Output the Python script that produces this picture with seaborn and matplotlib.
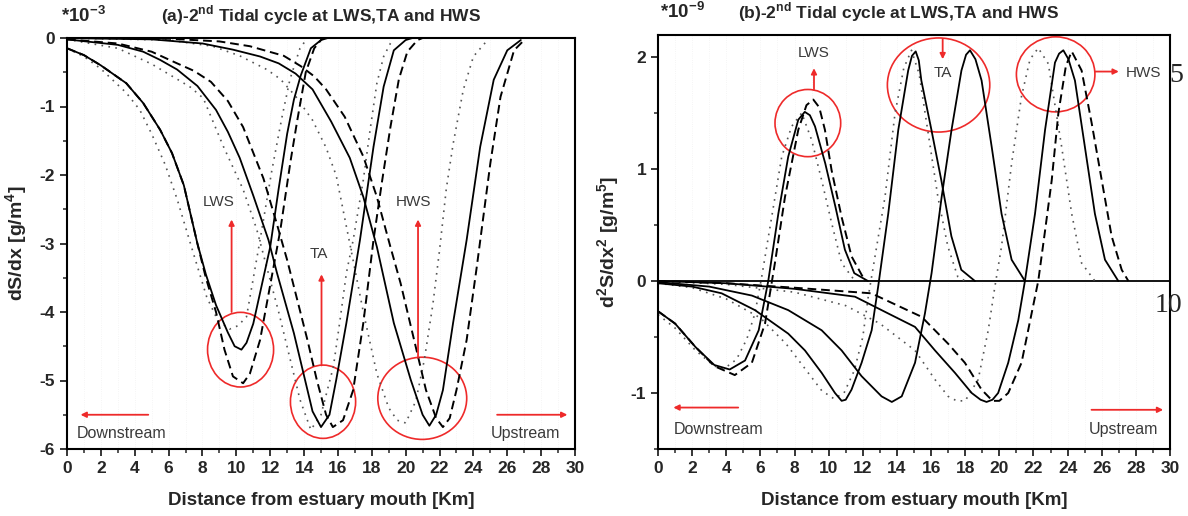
import matplotlib
matplotlib.use('Agg')
import matplotlib.pyplot as plt
import seaborn as sns
from matplotlib.patches import Ellipse
from matplotlib.ticker import MultipleLocator

# ---- panel (a): dS/dx  (*10^-3) ----
a_lws_solid_x = [0, 1, 2, 3.5, 4.5, 5.5, 6.2, 6.9, 7.7, 8.2, 8.8, 9.5, 9.9, 10.3, 10.6, 11.0, 12.0, 12.5, 13.0, 13.4, 13.8, 14.4, 15.0, 15.4]
a_lws_solid_y = [-0.15, -0.25, -0.4, -0.66, -0.95, -1.34, -1.68, -2.15, -3.0, -3.45, -3.9, -4.3, -4.5, -4.55, -4.45, -4.17, -3.05, -2.2, -1.4, -0.9, -0.55, -0.15, -0.03, 0]
a_lws_dash_x = [0, 1, 2, 3.5, 4.5, 5.5, 6.2, 6.9, 7.7, 8.2, 8.8, 9.3, 9.8, 10.4, 10.8, 11.4, 12.2, 12.6, 13.2, 13.6, 14.1, 14.6, 15.1]
a_lws_dash_y = [-0.15, -0.25, -0.4, -0.66, -0.95, -1.34, -1.68, -2.15, -3.0, -3.5, -4.0, -4.55, -4.94, -5.04, -4.9, -4.41, -3.34, -2.8, -1.8, -1.2, -0.5, -0.15, 0]
a_lws_dot_x = [0, 1, 2, 3.5, 4.3, 5.0, 5.8, 6.5, 7.46, 8.25, 8.9, 9.6, 10.1, 10.6, 11.4, 12.1, 12.7, 13.17, 13.76, 14.2]
a_lws_dot_y = [-0.15, -0.27, -0.45, -0.8, -1.05, -1.4, -1.85, -2.35, -3.14, -3.78, -4.12, -4.25, -4.2, -4.07, -2.95, -1.93, -1.15, -0.6, -0.15, 0]

a_ta_solid_x = [0, 3, 4.5, 5.5, 6.5, 7.7, 8.8, 9.5, 10.2, 11.0, 11.9, 12.4, 13.4, 14.5, 15.0, 15.5, 15.9, 16.5, 17.3, 18.1, 18.7, 19.3, 20.0, 20.4]
a_ta_solid_y = [-0.02, -0.1, -0.2, -0.32, -0.46, -0.7, -1.05, -1.37, -1.75, -2.3, -2.95, -3.43, -4.31, -5.45, -5.68, -5.5, -4.99, -4.16, -2.95, -1.59, -0.71, -0.18, -0.03, 0]
a_ta_dash_x = [0, 3, 5, 6.5, 7.5, 8.5, 9.5, 10.4, 11.6, 12.4, 13.0, 14.2, 14.75, 15.3, 15.7, 16.3, 16.9, 17.5, 18.1, 18.6, 19.1, 19.6, 20.1, 20.7, 21.0]
a_ta_dash_y = [-0.02, -0.08, -0.2, -0.37, -0.48, -0.64, -0.92, -1.3, -2.05, -2.72, -3.24, -4.41, -4.99, -5.5, -5.68, -5.58, -5.14, -4.16, -2.95, -2.1, -1.3, -0.6, -0.2, -0.03, 0]
a_ta_dot_x = [0, 3, 5, 6.5, 7.3, 8.05, 9.23, 10.4, 11.2, 12.5, 13.76, 14.4, 15.0, 15.73, 16.1, 16.5, 16.9, 17.5, 17.9, 18.3, 18.7, 19.2]
a_ta_dot_y = [-0.02, -0.15, -0.38, -0.6, -0.72, -0.88, -1.58, -2.21, -2.79, -4.0, -5.28, -5.72, -5.5, -4.8, -4.16, -3.43, -2.95, -2.07, -1.34, -0.66, -0.27, -0.03]

a_hws_solid_x = [0, 5, 8, 9.8, 11.4, 12.5, 13.5, 14.5, 15.6, 16.7, 17.5, 18.3, 19.3, 20.3, 21.0, 21.4, 21.8, 22.2, 22.8, 23.6, 24.4, 25.2, 26.0, 26.8]
a_hws_solid_y = [0, -0.02, -0.08, -0.17, -0.27, -0.37, -0.52, -0.75, -1.22, -1.75, -2.32, -3.05, -4.16, -4.99, -5.5, -5.66, -5.5, -5.14, -4.16, -2.95, -1.59, -0.61, -0.18, -0.03]
a_hws_dash_x = [0, 6, 9, 10.8, 12.8, 13.8, 14.6, 15.3, 16.4, 17.5, 18.3, 19.1, 19.7, 20.5, 21.2, 21.8, 22.2, 22.6, 23.0, 23.6, 24.2, 25.0, 25.6, 26.4, 27.0]
a_hws_dash_y = [0, -0.01, -0.05, -0.12, -0.26, -0.41, -0.56, -0.75, -1.15, -1.73, -2.32, -3.05, -3.58, -4.41, -5.14, -5.55, -5.68, -5.55, -5.14, -4.41, -3.34, -1.83, -0.86, -0.18, -0.03]
a_hws_dot_x = [0, 6, 8.6, 10.2, 11.8, 12.6, 13.5, 14.5, 15.3, 15.9, 16.7, 17.5, 18.3, 19.0, 19.5, 20.0, 20.6, 21.1, 21.6, 22.0, 22.4, 22.8, 23.4, 24.0, 24.8]
a_hws_dot_y = [0, -0.03, -0.12, -0.26, -0.46, -0.6, -0.85, -1.2, -1.6, -2.01, -3.0, -4.0, -4.9, -5.4, -5.58, -5.62, -5.3, -4.7, -3.9, -3.1, -2.2, -1.55, -0.76, -0.27, -0.04]

# ---- panel (b): d2S/dx2  (*10^-9) ----
b_lws_solid_x = [0, 1.0, 2.2, 3.3, 4.2, 5.1, 5.9, 6.46, 7.05, 7.63, 8.22, 8.6, 8.9, 9.2, 9.8, 10.4, 10.95, 11.5, 12.3]
b_lws_solid_y = [-0.27, -0.38, -0.59, -0.75, -0.79, -0.71, -0.44, 0.0, 0.6, 1.11, 1.44, 1.51, 1.48, 1.38, 1.05, 0.66, 0.28, 0.07, 0]
b_lws_dash_x = [0, 1, 2.2, 3.3, 4.5, 5.5, 6.27, 6.85, 7.44, 8.22, 8.7, 9.1, 9.45, 9.78, 10.17, 10.76, 11.34, 12.13]
b_lws_dash_y = [-0.27, -0.38, -0.59, -0.76, -0.84, -0.73, -0.38, 0.16, 0.75, 1.35, 1.57, 1.62, 1.55, 1.35, 0.99, 0.57, 0.22, 0.0]
b_lws_dot_x = [0, 1, 2.2, 3.3, 3.9, 4.6, 5.2, 5.68, 6.08, 6.66, 7.25, 7.83, 8.42, 9.0, 9.59, 10.17, 10.76, 11.54]
b_lws_dot_y = [-0.3, -0.42, -0.62, -0.76, -0.78, -0.7, -0.52, -0.29, 0.04, 0.57, 1.11, 1.38, 1.5, 1.26, 0.9, 0.52, 0.16, 0.0]

b_ta1_solid_x = [0, 2, 3.73, 5.68, 7.63, 8.61, 9.59, 10.37, 10.76, 11.0, 11.34, 11.93, 12.52, 12.9, 13.49, 14.08, 14.66, 14.88, 15.1, 15.28, 15.43, 16.02, 16.6, 17.19, 17.77, 18.57]
b_ta1_solid_y = [-0.02, -0.05, -0.11, -0.26, -0.47, -0.62, -0.82, -1.0, -1.07, -1.06, -0.97, -0.73, -0.44, -0.05, 0.6, 1.35, 1.88, 2.01, 2.05, 1.97, 1.79, 1.35, 0.9, 0.4, 0.1, 0.0]
b_ta1_dot_x = [0, 2, 4, 6, 7.5, 8.6, 9.6, 10.3, 10.9, 11.5, 12.0, 12.32, 13.3, 13.89, 14.4, 14.85, 15.3, 15.8, 16.4, 16.98, 17.56, 18.0]
b_ta1_dot_y = [-0.02, -0.06, -0.16, -0.33, -0.56, -0.78, -0.98, -1.05, -1.0, -0.8, -0.5, -0.14, 0.75, 1.5, 1.9, 2.06, 1.85, 1.35, 0.75, 0.31, 0.04, 0.0]
b_ta2_solid_x = [0, 3, 5.5, 7.63, 9.59, 10.76, 11.93, 13.1, 13.7, 14.28, 15.06, 15.64, 16.03, 16.62, 17.2, 17.78, 18.05, 18.28, 18.6, 18.96, 19.55, 20.13, 20.72, 21.5]
b_ta2_solid_y = [-0.01, -0.05, -0.13, -0.26, -0.44, -0.62, -0.85, -1.03, -1.08, -1.03, -0.73, -0.29, 0.07, 0.75, 1.35, 1.88, 2.02, 2.06, 1.98, 1.79, 1.2, 0.6, 0.19, 0.0]

b_hws_solid_x = [0, 4, 8, 11.54, 13.49, 15.06, 16.23, 17.4, 18.38, 18.9, 19.25, 19.6, 19.93, 20.52, 21.11, 21.5, 22.09, 22.68, 23.26, 23.5, 23.75, 24.05, 24.43, 25.01, 25.6, 26.19, 26.97]
b_hws_solid_y = [0, -0.02, -0.07, -0.14, -0.29, -0.41, -0.62, -0.82, -1.0, -1.06, -1.08, -1.06, -1.0, -0.73, -0.35, 0.0, 0.6, 1.35, 1.95, 2.03, 2.06, 1.98, 1.79, 1.2, 0.6, 0.19, 0.0]
b_hws_dash_x = [0, 4, 8, 12.5, 15.45, 17.0, 17.98, 18.96, 19.6, 20.0, 20.52, 21.3, 21.89, 22.28, 22.68, 23.07, 23.46, 23.9, 24.24, 24.82, 25.41, 26.0, 26.58, 27.17, 27.56]
b_hws_dash_y = [0, -0.02, -0.06, -0.11, -0.32, -0.56, -0.73, -0.97, -1.07, -1.07, -1.0, -0.73, -0.29, 0.0, 0.45, 0.9, 1.5, 1.92, 2.05, 1.88, 1.41, 0.9, 0.4, 0.1, 0.0]
b_hws_dot_x = [0, 4, 8, 11, 13, 15.06, 16.23, 17.0, 17.5, 18.0, 18.76, 19.35, 19.74, 20.13, 20.72, 21.3, 21.8, 22.28, 22.87, 23.65, 24.24, 24.82, 25.6]
b_hws_dot_y = [0, -0.03, -0.1, -0.22, -0.38, -0.62, -0.88, -1.03, -1.07, -1.07, -0.88, -0.44, -0.05, 0.31, 1.05, 1.65, 1.98, 2.08, 1.94, 1.2, 0.6, 0.16, 0.0]

x_ticks = list(range(0, 31, 2))
a_yticks = [0, -1, -2, -3, -4, -5, -6]
b_yticks = [-1, 0, 1, 2]

sns.set_style('ticks')
plt.rcParams['font.family'] = ['Liberation Sans', 'DejaVu Sans']
plt.rcParams['font.weight'] = 'bold'
plt.rcParams['mathtext.fontset'] = 'custom'
plt.rcParams['mathtext.rm'] = 'Liberation Sans'
plt.rcParams['mathtext.bf'] = 'Liberation Sans:bold'
plt.rcParams['axes.unicode_minus'] = False

styles = {
    'solid': dict(color='black', linestyle='-', linewidth=1.3),
    'dash': dict(color='black', linestyle=(0, (4.5, 2.5)), linewidth=1.4),
    'dot': dict(color='#555555', linestyle=(0, (1, 3.2)), linewidth=1.2),
}

RED = '#ee2a2a'
GREY_TXT = '#3a3a3a'


def draw(ax, x, y, kind):
    sns.lineplot(x=x, y=y, ax=ax, estimator=None, sort=False, **styles[kind])


def style_axes(ax, yticks, ylim):
    ax.set_xlim(0, 30)
    ax.set_ylim(*ylim)
    ax.set_xticks(x_ticks)
    ax.set_yticks(yticks)
    ax.xaxis.set_minor_locator(MultipleLocator(1))
    ax.yaxis.set_minor_locator(MultipleLocator(0.5))
    ax.tick_params(which='major', direction='out', length=5, width=1.3, labelsize=12.5)
    ax.tick_params(which='minor', direction='out', length=3, width=1.1)
    ax.grid(axis='x', which='both', color='#f2f2f2', linewidth=0.6, linestyle=':')
    for s in ax.spines.values():
        s.set_visible(True)
        s.set_linewidth(1.5)
        s.set_color('black')
    for lbl in ax.get_xticklabels() + ax.get_yticklabels():
        lbl.set_fontweight('bold')


def red_arrow(ax, tail, head):
    ax.annotate('', xy=head, xytext=tail,
                arrowprops=dict(arrowstyle='-|>', color=RED, lw=1.3, mutation_scale=8,
                                shrinkA=0, shrinkB=0))


def red_ellipse(ax, c, w, h):
    ax.add_patch(Ellipse(c, w, h, fill=False, edgecolor=RED, linewidth=1.2))


def note(ax, x, y, s, ha='center', size=11):
    ax.text(x, y, s, ha=ha, va='center', fontsize=size, fontweight='normal', color=GREY_TXT)


fig = plt.figure(figsize=(11.88, 5.16), dpi=100)
ax1 = fig.add_axes([67 / 1188, 1 - 449 / 516, 508 / 1188, 411 / 516])
ax2 = fig.add_axes([658 / 1188, 1 - 449 / 516, 512 / 1188, 414.4 / 516])

# panel (a)
for x, y, k in [(a_lws_dot_x, a_lws_dot_y, 'dot'), (a_ta_dot_x, a_ta_dot_y, 'dot'), (a_hws_dot_x, a_hws_dot_y, 'dot'),
                (a_lws_dash_x, a_lws_dash_y, 'dash'), (a_ta_dash_x, a_ta_dash_y, 'dash'), (a_hws_dash_x, a_hws_dash_y, 'dash'),
                (a_lws_solid_x, a_lws_solid_y, 'solid'), (a_ta_solid_x, a_ta_solid_y, 'solid'), (a_hws_solid_x, a_hws_solid_y, 'solid')]:
    draw(ax1, x, y, k)
style_axes(ax1, a_yticks, (-6, 0))

red_ellipse(ax1, (10.25, -4.55), 3.9, 1.09)
red_ellipse(ax1, (15.12, -5.31), 3.85, 1.07)
red_ellipse(ax1, (20.98, -5.26), 5.25, 1.2)
red_arrow(ax1, (9.72, -4.0), (9.72, -2.65))
red_arrow(ax1, (15.03, -4.78), (15.03, -3.45))
red_arrow(ax1, (20.73, -4.67), (20.73, -2.65))
red_arrow(ax1, (4.8, -5.5), (0.8, -5.5))
red_arrow(ax1, (25.4, -5.5), (29.55, -5.5))
note(ax1, 8.95, -2.4, 'LWS')
note(ax1, 14.85, -3.16, 'TA')
note(ax1, 20.45, -2.4, 'HWS')
note(ax1, 0.6, -5.77, 'Downstream', ha='left', size=11.5)
note(ax1, 29.1, -5.77, 'Upstream', ha='right', size=11.5)

ax1.set_xlabel('Distance from estuary mouth [Km]', fontsize=13.5, fontweight='bold', labelpad=12)
ax1.set_ylabel(r'dS/dx [g/m$^{\mathbf{4}}$]', fontsize=14, fontweight='bold', labelpad=7)
ax1.text(0.5, 1.055, r'(a)-2$^{\mathbf{nd}}$ Tidal cycle at LWS,TA and HWS', transform=ax1.transAxes,
         ha='center', va='center', fontsize=12.5, fontweight='bold')
ax1.text(-0.012, 1.055, r'*10$^{\mathbf{-3}}$', transform=ax1.transAxes,
         ha='left', va='center', fontsize=13.5, fontweight='bold')

# panel (b)
ax2.axhline(0, color='black', linewidth=1.3)
for x, y, k in [(b_lws_dot_x, b_lws_dot_y, 'dot'), (b_ta1_dot_x, b_ta1_dot_y, 'dot'), (b_hws_dot_x, b_hws_dot_y, 'dot'),
                (b_lws_dash_x, b_lws_dash_y, 'dash'), (b_hws_dash_x, b_hws_dash_y, 'dash'),
                (b_lws_solid_x, b_lws_solid_y, 'solid'), (b_ta1_solid_x, b_ta1_solid_y, 'solid'),
                (b_ta2_solid_x, b_ta2_solid_y, 'solid'), (b_hws_solid_x, b_hws_solid_y, 'solid')]:
    draw(ax2, x, y, k)
style_axes(ax2, b_yticks, (-1.5, 2.2))

red_ellipse(ax2, (8.78, 1.41), 3.85, 0.6)
red_ellipse(ax2, (16.44, 1.75), 6.0, 0.84)
red_ellipse(ax2, (23.3, 1.845), 4.6, 0.67)
red_arrow(ax2, (9.14, 1.71), (9.14, 1.9))
red_arrow(ax2, (16.68, 2.16), (16.68, 1.98))
red_arrow(ax2, (25.6, 1.87), (27.0, 1.87))
red_arrow(ax2, (4.7, -1.13), (0.9, -1.13))
red_arrow(ax2, (25.4, -1.15), (29.6, -1.15))
note(ax2, 9.1, 2.04, 'LWS')
note(ax2, 16.71, 1.86, 'TA')
note(ax2, 27.4, 1.86, 'HWS', ha='left')
note(ax2, 0.9, -1.33, 'Downstream', ha='left', size=11.5)
note(ax2, 29.3, -1.33, 'Upstream', ha='right', size=11.5)

ax2.set_xlabel('Distance from estuary mouth [Km]', fontsize=13.5, fontweight='bold', labelpad=12)
ax2.set_ylabel(r'd$^{\mathbf{2}}$S/dx$^{\mathbf{2}}$ [g/m$^{\mathbf{5}}$]', fontsize=14, fontweight='bold', labelpad=6)
ax2.text(0.47, 1.055, r'(b)-2$^{\mathbf{nd}}$ Tidal cycle at LWS,TA and HWS', transform=ax2.transAxes,
         ha='center', va='center', fontsize=12.5, fontweight='bold')
ax2.text(0.004, 1.055, r'*10$^{\mathbf{-9}}$', transform=ax2.transAxes,
         ha='left', va='center', fontsize=13.5, fontweight='bold')

# stray page numbers from the source document
fig.text(1176 / 1188, 1 - 75 / 516, '5', fontsize=20, fontweight='normal', family='Liberation Serif',
         ha='center', va='center')
fig.text(1168 / 1188, 1 - 305 / 516, '10', fontsize=20, fontweight='normal', family='Liberation Serif',
         ha='center', va='center')

fig.savefig('out.png', dpi=100)
